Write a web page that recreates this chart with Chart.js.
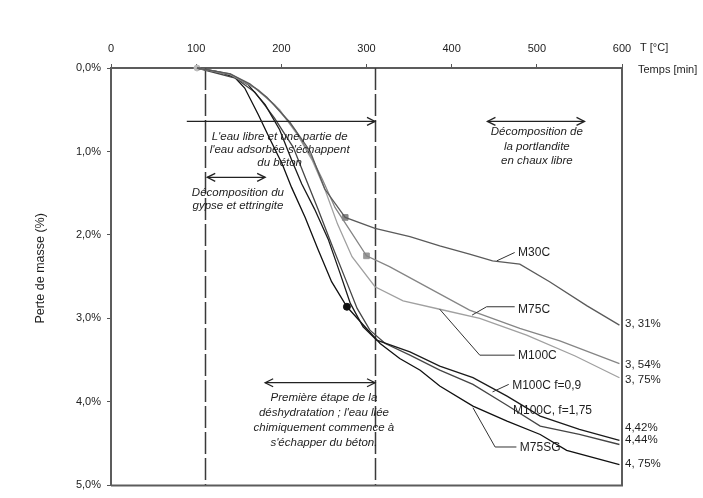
<!DOCTYPE html>
<html lang="fr">
<head>
<meta charset="UTF-8">
<title>Perte de masse</title>
<script src="https://cdn.jsdelivr.net/npm/chart.js"></script>
<style>
  html, body { margin: 0; padding: 0; background: #fff; }
  #wrap { width: 703px; height: 498px; }
</style>
</head>
<body>
<div id="wrap"><canvas id="tga" width="703" height="498"></canvas></div>
<script>
// température [°C] et perte de masse [%]
const tempM30C = [101, 140, 163, 183, 210, 234, 251, 275, 310, 351, 386, 421, 448, 480, 515, 559, 597];
const lossM30C = [0, 0.07, 0.19, 0.35, 0.65, 1.0, 1.45, 1.79, 1.92, 2.02, 2.13, 2.23, 2.31, 2.35, 2.56, 2.85, 3.08];

const tempM75C = [101, 140, 169, 192, 216, 234, 248, 263, 281, 300, 327, 374, 421, 480, 527, 597];
const lossM75C = [0, 0.07, 0.24, 0.44, 0.74, 1.04, 1.33, 1.67, 1.95, 2.25, 2.38, 2.64, 2.90, 3.12, 3.27, 3.54];

const tempM100C = [101, 140, 173, 198, 219, 236, 251, 266, 283, 310, 343, 386, 433, 488, 545, 597];
const lossM100C = [0, 0.08, 0.26, 0.5, 0.80, 1.10, 1.45, 1.87, 2.26, 2.62, 2.79, 2.89, 3.0, 3.20, 3.45, 3.71];

const tempF09 = [101, 140, 161, 181, 198, 212, 224, 239, 255, 269, 281, 296, 312, 351, 386, 425, 465, 504, 550, 597];
const lossF09 = [0, 0.08, 0.20, 0.44, 0.74, 1.10, 1.39, 1.69, 2.05, 2.46, 2.82, 3.10, 3.26, 3.40, 3.57, 3.71, 3.93, 4.17, 4.33, 4.46];

const tempF175 = [101, 146, 169, 192, 214, 228, 243, 259, 275, 289, 304, 322, 351, 386, 425, 465, 504, 550, 597];
const lossF175 = [0, 0.12, 0.29, 0.6, 0.95, 1.31, 1.69, 2.11, 2.52, 2.88, 3.14, 3.30, 3.44, 3.62, 3.79, 4.04, 4.29, 4.39, 4.51];

const tempM75SG = [101, 128, 146, 157, 173, 187, 201, 212, 228, 243, 259, 277, 300, 316, 339, 363, 386, 425, 465, 504, 535, 597];
const lossM75SG = [0, 0.05, 0.12, 0.24, 0.56, 0.86, 1.15, 1.43, 1.79, 2.17, 2.56, 2.86, 3.12, 3.30, 3.48, 3.62, 3.81, 4.05, 4.23, 4.39, 4.58, 4.75];

const seriesNames = ['M30C', 'M75C', 'M100C', 'M100C f=0,9', 'M100C, f=1,75', 'M75SG'];
const seriesColors = ['#5a5a5a', '#858585', '#a0a0a0', '#1a1a1a', '#454545', '#101010'];

// repères sur les courbes
const markerT = [101, 275, 300, 277];
const markerL = [0, 1.79, 2.25, 2.86];
const markerStyle = ['circle', 'rect', 'rect', 'circle'];
const markerColor = ['#bbb', '#888', '#999', '#111'];

// étiquettes des courbes et traits de rappel
const labelT = [478, 478, 478, 471, 472, 480];
const labelL = [2.21, 2.90, 3.45, 3.80, 4.10, 4.55];
const leaderM30C = [[453, 2.31], [474, 2.21]];
const leaderM75C = [[424, 2.96], [441, 2.86], [474, 2.86]];
const leaderM100C = [[386, 2.89], [433, 3.44], [474, 3.44]];
const leaderF09 = [[448, 3.88], [467, 3.79]];
const leaderM75SG = [[425, 4.07], [451, 4.54], [476, 4.54]];

// valeurs finales
const endText = ['3, 31%', '3, 54%', '3, 75%', '4,42%', '4,44%', '4, 75%'];
const endL = [3.06, 3.56, 3.74, 4.31, 4.46, 4.74];

// limites des phases
const phaseT = [110, 310];

// flèches et commentaires
const arrowStartT = [89, 113, 442, 181];
const arrowEndT = [310, 181, 556, 310];
const arrowL = [0.64, 1.31, 0.64, 3.77];
const arrowBoth = [false, true, true, true];
const noteText = [
  ["L'eau libre et une partie de", "l'eau adsorbée s'échappent", "du béton"],
  ["Décomposition du", "gypse et ettringite"],
  ["Décomposition de", "la portlandite", "en chaux libre"],
  ["Première étape de la", "déshydratation ; l'eau liée", "chimiquement commence à", "s'échapper du béton."]
];
const noteT = [198, 149, 500, 250];
const noteL = [0.82, 1.49, 0.77, 3.95];
const noteStep = [0.155, 0.155, 0.17, 0.18];

const zip = (t, l) => t.map((v, i) => ({ x: v, y: l[i] }));
const curves = [
  [tempM30C, lossM30C], [tempM75C, lossM75C], [tempM100C, lossM100C],
  [tempF09, lossF09], [tempF175, lossF175], [tempM75SG, lossM75SG]
];

const FONT = "'Liberation Sans', Arial, sans-serif";

function head(ctx, x, y, dir) {
  ctx.beginPath();
  ctx.moveTo(x - dir * 8, y - 4);
  ctx.lineTo(x, y);
  ctx.lineTo(x - dir * 8, y + 4);
  ctx.stroke();
}

const decor = {
  id: 'decor',
  beforeDatasetsDraw(chart) {
    const { ctx, chartArea: a, scales: { x } } = chart;
    ctx.save();
    ctx.strokeStyle = '#3a3a3a';
    ctx.lineWidth = 1.5;
    ctx.setLineDash([22, 4]);
    phaseT.forEach(t => {
      const px = Math.round(x.getPixelForValue(t)) + 0.5;
      ctx.beginPath();
      ctx.moveTo(px, a.top);
      ctx.lineTo(px, a.bottom);
      ctx.stroke();
    });
    ctx.restore();
  },
  afterDatasetsDraw(chart) {
    const { ctx, chartArea: a, scales: { x, y } } = chart;
    ctx.save();
    // cadre
    ctx.strokeStyle = '#5c5c5c';
    ctx.lineWidth = 2;
    ctx.beginPath();
    ctx.moveTo(a.right, a.top);
    ctx.lineTo(a.right, a.bottom);
    ctx.lineTo(a.left, a.bottom);
    ctx.stroke();

    // flèches
    ctx.strokeStyle = '#222';
    ctx.lineWidth = 1.3;
    arrowL.forEach((l, i) => {
      const py = y.getPixelForValue(l);
      const x0 = x.getPixelForValue(arrowStartT[i]);
      const x1 = x.getPixelForValue(arrowEndT[i]);
      ctx.beginPath();
      ctx.moveTo(x0, py);
      ctx.lineTo(x1, py);
      ctx.stroke();
      head(ctx, x1, py, 1);
      if (arrowBoth[i]) head(ctx, x0, py, -1);
    });

    // commentaires
    ctx.fillStyle = '#1e1e1e';
    ctx.font = 'italic 11.5px ' + FONT;
    ctx.textAlign = 'center';
    ctx.textBaseline = 'middle';
    noteText.forEach((lines, i) => {
      lines.forEach((s, k) => {
        ctx.fillText(s, x.getPixelForValue(noteT[i]), y.getPixelForValue(noteL[i] + k * noteStep[i]));
      });
    });

    // traits de rappel
    ctx.strokeStyle = '#333';
    ctx.lineWidth = 1;
    [leaderM30C, leaderM75C, leaderM100C, leaderF09, leaderM75SG].forEach(pts => {
      ctx.beginPath();
      pts.forEach((p, k) => {
        const px = x.getPixelForValue(p[0]), py = y.getPixelForValue(p[1]);
        if (k === 0) ctx.moveTo(px, py); else ctx.lineTo(px, py);
      });
      ctx.stroke();
    });

    // noms des courbes
    ctx.font = '12px ' + FONT;
    ctx.textAlign = 'left';
    seriesNames.forEach((s, i) => {
      ctx.fillText(s, x.getPixelForValue(labelT[i]), y.getPixelForValue(labelL[i]));
    });

    // valeurs finales
    ctx.font = '11.5px ' + FONT;
    endText.forEach((s, i) => {
      ctx.fillText(s, a.right + 3, y.getPixelForValue(endL[i]));
    });

    // unités
    ctx.font = '11px ' + FONT;
    ctx.fillText('T [°C]', a.right + 18, 48);
    ctx.fillText('Temps [min]', a.right + 16, a.top + 2);

    // titre de l'axe vertical
    ctx.font = '12.5px ' + FONT;
    ctx.translate(41, y.getPixelForValue(2.4));
    ctx.rotate(-Math.PI / 2);
    ctx.textAlign = 'center';
    ctx.fillText('Perte de masse (%)', 0, 0);
    ctx.restore();
  }
};

const datasets = curves.map((c, i) => ({
  label: seriesNames[i],
  data: zip(c[0], c[1]),
  borderColor: seriesColors[i],
  borderWidth: 1.3,
  pointRadius: 0,
  tension: 0,
  clip: false
}));
datasets.push({
  type: 'scatter',
  label: 'repères',
  data: zip(markerT, markerL),
  pointStyle: markerStyle,
  pointRadius: [3, 4, 4, 3.5],
  backgroundColor: markerColor,
  borderColor: markerColor,
  clip: false
});

new Chart(document.getElementById('tga'), {
  type: 'line',
  data: { datasets },
  options: {
    responsive: false,
    animation: false,
    layout: { padding: { left: 0, top: 0, right: 81, bottom: 10 } },
    plugins: { legend: { display: false }, tooltip: { enabled: false } },
    scales: {
      x: {
        type: 'linear',
        position: 'top',
        min: 0,
        max: 600,
        ticks: { stepSize: 100, color: '#222', font: { family: FONT, size: 11 }, padding: 8, maxRotation: 0 },
        grid: { drawOnChartArea: false, tickLength: 4, color: '#555' },
        border: { color: '#5c5c5c', width: 2 },
        afterFit: s => { s.height = 68; }
      },
      y: {
        type: 'linear',
        reverse: true,
        min: 0,
        max: 5,
        ticks: {
          stepSize: 1,
          color: '#222',
          font: { family: FONT, size: 11 },
          padding: 6,
          callback: v => v.toFixed(1).replace('.', ',') + '%'
        },
        grid: { drawOnChartArea: false, tickLength: 4, color: '#555' },
        border: { color: '#5c5c5c', width: 2 },
        afterFit: s => { s.width = 111; }
      }
    }
  },
  plugins: [decor]
});
</script>
</body>
</html>
